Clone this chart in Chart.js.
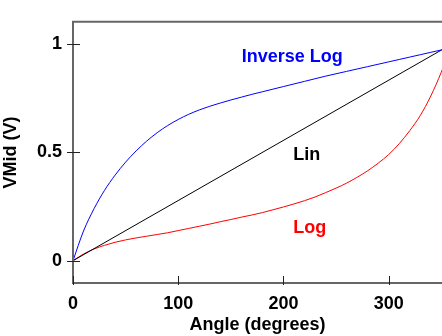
<!DOCTYPE html>
<html>
<head>
<meta charset="utf-8">
<script src="https://cdn.jsdelivr.net/npm/chart.js@4"></script>
<style>
  html, body { margin: 0; padding: 0; background: #fff; }
  canvas { display: block; }
</style>
</head>
<body>
<canvas id="chart" width="442" height="336"></canvas>
<script>
// Pot taper curves: output voltage against wiper angle
const angles = [0, 10, 20, 30, 40, 50, 60, 70, 80, 90, 100, 110, 120, 130, 140, 150, 160, 170, 180,
    190, 200, 210, 220, 230, 240, 250, 260, 270, 280, 290, 300, 310, 320, 330, 340, 350, 360];
const logValues = [0, 0.031, 0.054, 0.071, 0.085, 0.096, 0.105, 0.113, 0.121, 0.129, 0.139, 0.149,
    0.159, 0.169, 0.18, 0.19, 0.201, 0.211, 0.222, 0.235, 0.248, 0.262, 0.277, 0.294, 0.314, 0.335,
    0.358, 0.385, 0.415, 0.45, 0.49, 0.54, 0.6, 0.67, 0.76, 0.87, 1.0];
const invLogValues = [0, 0.137, 0.24, 0.325, 0.395, 0.455, 0.507, 0.552, 0.591, 0.624, 0.652, 0.676,
    0.696, 0.713, 0.728, 0.742, 0.755, 0.768, 0.78, 0.792, 0.804, 0.816, 0.828, 0.84, 0.852, 0.863,
    0.874, 0.885, 0.896, 0.907, 0.918, 0.929, 0.94, 0.951, 0.962, 0.973, 0.985];
const linAngles = [0, 360];
const linValues = [0, 1];

const xTicks = [0, 100, 200, 300];
const yTicks = [0, 0.5, 1];
const yTickLabels = ['0', '0.5', '1'];

// curve labels, placed in data coordinates
const noteText = ['Inverse Log', 'Lin', 'Log'];
const noteAngle = [160.4, 209.4, 209.4];
const noteVolt = [0.919, 0.463, 0.128];
const noteColor = ['#0000ff', '#000000', '#ff0000'];

const FONT = '"Liberation Sans", Arial, Helvetica, sans-serif';

function toPoints(xs, ys) {
    return xs.map((x, i) => ({ x: x, y: ys[i] }));
}

const framePlugin = {
    id: 'frame',
    afterDatasetsDraw(chart) {
        const ctx = chart.ctx;
        const a = chart.chartArea;
        const xs = chart.scales.x;
        const ys = chart.scales.y;
        ctx.save();
        // box lines
        ctx.strokeStyle = '#666';
        ctx.lineWidth = 2;
        ctx.beginPath();
        ctx.moveTo(a.right + 2, a.top);
        ctx.lineTo(a.left, a.top);
        ctx.lineTo(a.left, a.bottom);
        ctx.lineTo(a.right + 2, a.bottom);
        ctx.stroke();
        // tick marks
        ctx.strokeStyle = '#222';
        ctx.lineWidth = 1;
        ctx.beginPath();
        yTicks.forEach(v => {
            const py = Math.round(ys.getPixelForValue(v)) + 0.5;
            ctx.moveTo(a.left - 6, py);
            ctx.lineTo(a.left + 7, py);
        });
        xTicks.forEach(v => {
            const px = Math.round(xs.getPixelForValue(v)) + 0.5;
            ctx.moveTo(px, a.bottom - 7);
            ctx.lineTo(px, a.bottom + 2);
        });
        ctx.stroke();
        // curve labels
        ctx.font = 'bold 18px ' + FONT;
        ctx.textBaseline = 'alphabetic';
        ctx.textAlign = 'left';
        noteText.forEach((t, i) => {
            ctx.fillStyle = noteColor[i];
            ctx.fillText(t, xs.getPixelForValue(noteAngle[i]), ys.getPixelForValue(noteVolt[i]));
        });
        ctx.restore();
    }
};

const ctx = document.getElementById('chart').getContext('2d');
const myChart = new Chart(ctx, {
    type: 'line',
    data: {
        datasets: [
            {
                label: 'Inverse Log',
                data: toPoints(angles, invLogValues),
                borderColor: '#0000ff',
                borderWidth: 1,
                pointRadius: 0,
                cubicInterpolationMode: 'monotone',
            },
            {
                label: 'Lin',
                data: toPoints(linAngles, linValues),
                borderColor: '#000000',
                borderWidth: 1,
                pointRadius: 0,
            },
            {
                label: 'Log',
                data: toPoints(angles, logValues),
                borderColor: '#ff0000',
                borderWidth: 1,
                pointRadius: 0,
                cubicInterpolationMode: 'monotone',
            },
        ],
    },
    options: {
        responsive: false,
        animation: false,
        layout: { padding: { top: 10, right: 0, left: 0, bottom: 0 } },
        plugins: {
            legend: { display: false },
            tooltip: { enabled: false },
        },
        scales: {
            x: {
                type: 'linear',
                min: 0,
                max: 350.7,
                afterBuildTicks: scale => { scale.ticks = xTicks.map(v => ({ value: v })); },
                afterFit: scale => { scale.height = 53; },
                grid: { display: false, drawTicks: false },
                border: { display: false },
                ticks: {
                    color: '#000',
                    padding: 10,
                    maxRotation: 0,
                    font: { family: FONT, size: 18, weight: 'bold' },
                },
                title: {
                    display: true,
                    text: 'Angle (degrees)',
                    color: '#000',
                    padding: { top: 0, bottom: 0 },
                    font: { family: FONT, size: 18, weight: 'bold' },
                },
            },
            y: {
                type: 'linear',
                min: -0.103,
                max: 1.103,
                afterBuildTicks: scale => { scale.ticks = yTicks.map(v => ({ value: v })); },
                afterFit: scale => { scale.width = 73; },
                grid: { display: false, drawTicks: false },
                border: { display: false },
                ticks: {
                    color: '#000',
                    padding: 11,
                    font: { family: FONT, size: 18, weight: 'bold' },
                    callback: value => yTickLabels[yTicks.indexOf(value)],
                },
                title: {
                    display: true,
                    text: 'VMid (V)',
                    color: '#000',
                    padding: { top: 0, bottom: 0 },
                    font: { family: FONT, size: 18, weight: 'bold' },
                },
            },
        },
    },
    plugins: [framePlugin],
});
</script>
</body>
</html>
